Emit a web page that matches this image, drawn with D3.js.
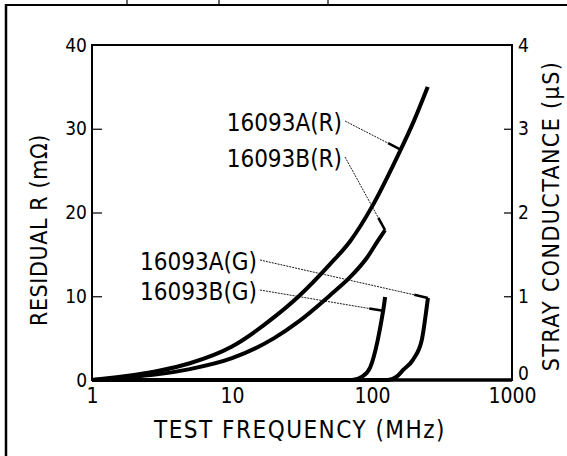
<!DOCTYPE html>
<html lang="en">
	<head>
		<meta charset="utf-8">
		<title>Residual R and stray conductance</title>
		<script src="https://d3js.org/d3.v7.min.js"></script>
		<style>
			body { margin: 0; background: #fff; }
			text { font-family: "DejaVu Sans Condensed", sans-serif; fill: #000; }
		</style>
	</head>
	<body>
		<script type="text/javascript">

			// data
			var freqAR = [1, 2, 3, 5, 10, 20, 30, 50, 70, 100, 150, 200, 250];
			var residualA = [0, 0.6, 1.1, 2.0, 4.0, 7.5, 10.0, 13.8, 16.6, 20.7, 26.5, 31, 35];
			var freqBR = [1, 2, 3, 5, 10, 20, 30, 50, 70, 92, 110, 124];
			var residualB = [0, 0.4, 0.7, 1.3, 2.6, 5.0, 7.0, 10.1, 12.3, 14.6, 16.6, 17.9];
			var freqAG = [1, 130, 150, 167, 196, 227, 246, 251];
			var conductA = [0, 0, 0.04, 0.12, 0.24, 0.48, 0.87, 0.98];
			var freqBG = [1, 72, 85, 97, 110, 118, 122, 124];
			var conductB = [0, 0, 0.04, 0.15, 0.48, 0.75, 0.9, 0.99];

			var xTicks = [1, 10, 100, 1000];
			var yTicksL = [0, 10, 20, 30, 40];
			var yTicksR = [0, 1, 2, 3, 4];
			var seriesNames = ["16093A(R)", "16093B(R)", "16093A(G)", "16093B(G)"];

			var w = 567;
			var h = 456;

			var xScale = d3.scaleLog().domain([1, 1000]).range([92, 512]);
			var yScale = d3.scaleLinear().domain([0, 40]).range([380, 45]);
			var gScale = d3.scaleLinear().domain([0, 4]).range([380, 45]);

			var svg = d3.select("body").append("svg").attr("width", w).attr("height", h);

			// page frame (cut from a larger sheet)
			svg.append("line").attr("x1", 5).attr("x2", w).attr("y1", 5).attr("y2", 5)
				.attr("stroke", "#000").attr("stroke-width", 2);
			svg.append("line").attr("x1", 6).attr("x2", 6).attr("y1", 4).attr("y2", h)
				.attr("stroke", "#000").attr("stroke-width", 2.5);
			[127, 219, 328].forEach(function(x) {
				svg.append("line").attr("x1", x).attr("x2", x).attr("y1", 0).attr("y2", 5)
					.attr("stroke", "#000").attr("stroke-width", 1.2);
			});

			// axes, ticks inside the box
			var xAxis = d3.axisBottom(xScale).tickValues(xTicks).tickSize(0).tickPadding(8)
				.tickFormat(d3.format("d"));
			var yAxisL = d3.axisLeft(yScale).tickValues(yTicksL).tickSize(-10).tickPadding(5)
				.tickFormat(d3.format("d"));
			var yAxisR = d3.axisRight(gScale).tickValues(yTicksR).tickSize(-8).tickPadding(6)
				.tickFormat(d3.format("d"));

			var gx = svg.append("g").attr("transform", "translate(0,380)").call(xAxis);
			var gl = svg.append("g").attr("transform", "translate(92,0)").call(yAxisL);
			var gr = svg.append("g").attr("transform", "translate(512,0)").call(yAxisR);

			[gx, gl, gr].forEach(function(g) {
				g.select(".domain").remove();
				g.selectAll("text").style("font-size", "19px")
					.style("font-family", "'DejaVu Sans Condensed', sans-serif")
					.attr("fill", "#000");
				g.selectAll("line").attr("stroke", "#000").attr("stroke-width", 1.2);
			});
			gx.selectAll("text").style("font-size", "21px");
			gl.selectAll(".tick").filter(function(d) { return d === 0 || d === 40; }).select("line").remove();
			gr.selectAll(".tick").filter(function(d) { return d === 0 || d === 4; }).select("line").remove();
			// the right-hand zero sits a little high in the original
			gr.selectAll(".tick").filter(function(d) { return d === 0; }).select("text").attr("y", -7);

			// plot box
			svg.append("rect").attr("x", 92).attr("y", 45).attr("width", 420).attr("height", 335)
				.attr("fill", "none").attr("stroke", "#000").attr("stroke-width", 2);
			svg.append("line").attr("x1", 92).attr("x2", 512).attr("y1", 380).attr("y2", 380)
				.attr("stroke", "#000").attr("stroke-width", 3.5);

			// curves
			var lineR = d3.line()
				.x(function(d) { return xScale(d[0]); })
				.y(function(d) { return yScale(d[1]); })
				.curve(d3.curveMonotoneX);
			var lineG = d3.line()
				.x(function(d) { return xScale(d[0]); })
				.y(function(d) { return gScale(d[1]); })
				.curve(d3.curveMonotoneX);

			var curves = [
				{ path: lineR(d3.zip(freqAR, residualA)) },
				{ path: lineR(d3.zip(freqBR, residualB)) },
				{ path: lineG(d3.zip(freqAG, conductA)) },
				{ path: lineG(d3.zip(freqBG, conductB)) }
			];
			svg.selectAll("path.curve").data(curves).enter().append("path")
				.attr("class", "curve")
				.attr("d", function(d) { return d.path; })
				.attr("fill", "none").attr("stroke", "#000").attr("stroke-width", 4)
				.attr("stroke-linejoin", "round");

			// labels with leader arrows
			var labels = [
				{ name: seriesNames[0], x: 342, y: 131, f: freqAR, v: residualA, s: yScale, at: 160 },
				{ name: seriesNames[1], x: 342, y: 167, f: freqBR, v: residualB, s: yScale, at: 124 },
				{ name: seriesNames[2], x: 257, y: 270, f: freqAG, v: conductA, s: gScale, at: 251 },
				{ name: seriesNames[3], x: 257, y: 300, f: freqBG, v: conductB, s: gScale, at: 120 }
			];
			labels.forEach(function(d) {
				svg.append("text").attr("x", d.x).attr("y", d.y).attr("text-anchor", "end")
					.style("font-size", "24px").text(d.name);
				var i = d.f.indexOf(d.at);
				var tx, ty;
				if (i >= 0) {
					tx = xScale(d.f[i]); ty = d.s(d.v[i]);
				} else {
					var j = d3.bisectLeft(d.f, d.at);
					var t = (Math.log(d.at) - Math.log(d.f[j - 1])) / (Math.log(d.f[j]) - Math.log(d.f[j - 1]));
					tx = xScale(d.at); ty = d.s(d.v[j - 1] + t * (d.v[j] - d.v[j - 1]));
				}
				var sx = d.x + 3, sy = d.y - 10;
				svg.append("line").attr("x1", sx).attr("y1", sy).attr("x2", tx).attr("y2", ty)
					.attr("stroke", "#000").attr("stroke-width", 0.9).attr("stroke-dasharray", "2,1");
				var ang = Math.atan2(ty - sy, tx - sx);
				svg.append("line").attr("x1", tx - 14 * Math.cos(ang)).attr("y1", ty - 14 * Math.sin(ang))
					.attr("x2", tx).attr("y2", ty).attr("stroke", "#000").attr("stroke-width", 2.5);
			});

			// axis titles
			svg.append("text").attr("transform", "translate(47,230) rotate(-90)")
				.attr("text-anchor", "middle").style("font-size", "23px").style("letter-spacing", "0.6px")
				.text("RESIDUAL R (mΩ)");
			svg.append("text").attr("transform", "translate(559,216) rotate(-90)")
				.attr("text-anchor", "middle").style("font-size", "23px").style("letter-spacing", "1.4px")
				.text("STRAY CONDUCTANCE (µS)");
			svg.append("text").attr("x", 300).attr("y", 438)
				.attr("text-anchor", "middle").style("font-size", "24px").style("letter-spacing", "1.5px")
				.text("TEST FREQUENCY (MHz)");

		</script>
	</body>
</html>
